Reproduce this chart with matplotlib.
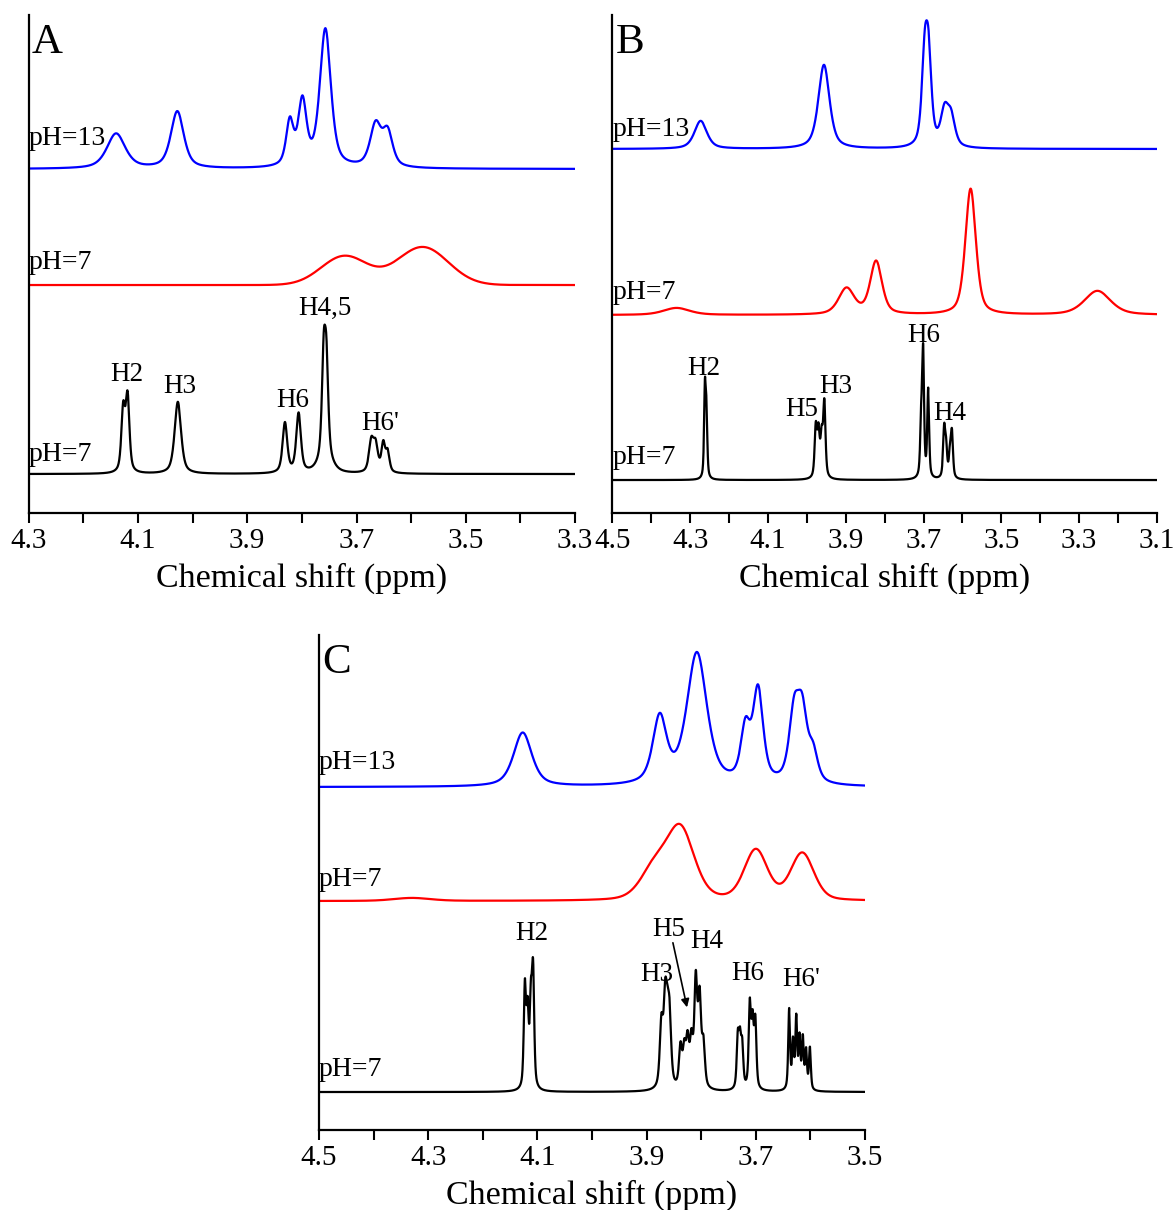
import numpy as np
import matplotlib
matplotlib.use('Agg')
import matplotlib.pyplot as plt

plt.rcParams['font.family'] = ['Liberation Serif', 'DejaVu Serif']

# ---- Panel A (x 4.3 -> 3.3) ----
A13_pos = [4.140, 4.028, 3.822, 3.799, 3.757, 3.665, 3.643]
A13_amp = [35, 57, 44, 64, 138, 42, 34]
A13_wid = [0.020, 0.014, 0.008, 0.009, 0.012, 0.012, 0.011]

A7b_pos = [3.722, 3.579]
A7b_amp = [29, 38]
A7b_wid = [0.050, 0.055]

A7_pos = [4.127, 4.119, 4.027, 3.831, 3.806, 3.760, 3.757, 3.755, 3.673, 3.665, 3.651, 3.643]
A7_amp = [62, 74, 72, 50, 59, 96, 14, 86, 30, 26, 28, 20]
A7_wid = [0.004, 0.004, 0.007, 0.005, 0.005, 0.004, 0.014, 0.004, 0.005, 0.005, 0.004, 0.004]

A_peaks = ['H2', 'H3', 'H6', 'H4,5', "H6'"]
A_peak_x = [4.120, 4.023, 3.817, 3.757, 3.656]
A_peak_y = [139, 127, 113, 205, 90]

# ---- Panel B (x 4.5 -> 3.1) ----
B13_pos = [4.273, 3.956, 3.697, 3.687, 3.646, 3.629]
B13_amp = [28, 84, 82, 80, 34, 28]
B13_wid = [0.019, 0.017, 0.009, 0.009, 0.012, 0.012]

B7b_pos = [4.335, 3.898, 3.822, 3.579, 3.253]
B7b_amp = [7, 26, 53, 126, 24]
B7b_wid = [0.040, 0.024, 0.018, 0.016, 0.040]

B7_pos = [4.262, 4.258, 3.977, 3.970, 3.962, 3.955, 3.706, 3.701, 3.688,
          3.647, 3.642, 3.632, 3.627]
B7_amp = [88, 60, 50, 44, 38, 74, 55, 122, 88, 48, 28, 24, 44]
B7_wid = [0.0025, 0.0025, 0.0035, 0.0035, 0.0035, 0.0035, 0.003, 0.0028, 0.0028,
          0.0032, 0.0032, 0.0032, 0.0032]

B_peaks = ['H2', 'H5', 'H3', 'H6', 'H4']
B_peak_x = [4.265, 4.013, 3.925, 3.699, 3.632]
B_peak_y = [145, 104, 127, 178, 100]

# ---- Panel C (x 4.5 -> 3.5) ----
C13_pos = [4.127, 3.876, 3.808, 3.719, 3.696, 3.630, 3.615, 3.595]
C13_amp = [54, 66, 132, 52, 92, 66, 66, 28]
C13_wid = [0.020, 0.015, 0.022, 0.010, 0.011, 0.011, 0.011, 0.010]

C7b_pos = [4.330, 3.886, 3.838, 3.700, 3.615]
C7b_amp = [3, 30, 70, 50, 47]
C7b_wid = [0.040, 0.030, 0.030, 0.025, 0.025]

C7_pos = [4.123, 4.118, 4.112, 4.108,
          3.873, 3.866, 3.862, 3.858,
          3.838, 3.831, 3.825, 3.818,
          3.810, 3.803, 3.796,
          3.733, 3.729, 3.725, 3.711, 3.706, 3.701,
          3.639, 3.632, 3.626, 3.620, 3.614, 3.608, 3.601]
C7_amp = [100, 72, 80, 112,
          62, 78, 44, 62,
          40, 36, 44, 44,
          104, 86, 42,
          50, 44, 40, 82, 62, 66,
          80, 46, 70, 50, 50, 38, 42]
C7_wid = [0.0024] * 4 + [0.0035] * 4 + [0.0032] * 4 + [0.0032] * 3 + [0.0024] * 6 + [0.002] * 7

C_peaks = ['H2', 'H3', 'H5', 'H4', 'H6', "H6'"]
C_peak_x = [4.111, 3.881, 3.859, 3.789, 3.715, 3.617]
C_peak_y = [197, 156, 201, 189, 157, 151]

ph_labels = ['pH=13', 'pH=7', 'pH=7']


def spectrum(x, pos, amp, wid, eta=0.6):
    """Pseudo-Voigt sum of peaks"""
    y = np.zeros_like(x)
    for p, a, w in zip(pos, amp, wid):
        u = (x - p) / w
        y += a * (eta / (1 + u ** 2) + (1 - eta) * np.exp(-np.log(2) * u ** 2))
    return y


def draw_panel(ax, xlim, ylim, traces, label_offsets, peaks, letter):
    x = np.linspace(xlim[1], xlim[0], 6000)
    for (pos, amp, wid, base, eta, color), text, off in zip(traces, ph_labels, label_offsets):
        ax.plot(x, base + spectrum(x, pos, amp, wid, eta), color=color, lw=1.6)
        ax.text(xlim[0], base + off, text, ha='left', va='bottom', fontsize=20)

    names, px, py = peaks
    for n, xx, yy in zip(names, px, py):
        ax.text(xx, yy, n, ha='center', va='center', fontsize=19.5)

    ax.text(0.006, 0.945, letter, transform=ax.transAxes, ha='left', va='center', fontsize=31)

    ax.set_xlim(*xlim)
    ax.set_ylim(*ylim)
    ticks = np.round(np.arange(min(xlim), max(xlim) + 1e-6, 0.1), 1)
    parity = round(xlim[0] * 10) % 2
    major = [t for t in ticks if round(t * 10) % 2 == parity]
    minor = [t for t in ticks if t not in major]
    ax.set_xticks(major)
    ax.set_xticks(minor, minor=True)
    ax.set_xticklabels([f'{t:.1f}' for t in major])
    ax.set_yticks([])
    ax.tick_params(axis='x', which='both', direction='out', length=7, width=1.5, labelsize=21, pad=4)
    for side in ['top', 'right']:
        ax.spines[side].set_visible(False)
    for side in ['left', 'bottom']:
        ax.spines[side].set_linewidth(1.6)
    ax.set_xlabel('Chemical shift (ppm)', fontsize=24.5, labelpad=6)


fig = plt.figure(figsize=(11.76, 12.10), dpi=100)

axA = fig.add_axes([0.0244, 0.576, 0.4646, 0.4116])
draw_panel(axA, (4.3, 3.3), (0, 498),
           [(A13_pos, A13_amp, A13_wid, 344, 0.6, '#0000ff'),
            (A7b_pos, A7b_amp, A7b_wid, 228, 0.0, '#ff0000'),
            (A7_pos, A7_amp, A7_wid, 39, 0.6, 'black')],
           [18, 10, 7], (A_peaks, A_peak_x, A_peak_y), 'A')

axB = fig.add_axes([0.5207, 0.576, 0.4631, 0.4116])
draw_panel(axB, (4.5, 3.1), (0, 498),
           [(B13_pos, B13_amp, B13_wid, 364, 0.6, '#0000ff'),
            (B7b_pos, B7b_amp, B7b_wid, 198, 0.5, '#ff0000'),
            (B7_pos, B7_amp, B7_wid, 33, 0.6, 'black')],
           [7, 10, 10], (B_peaks, B_peak_x, B_peak_y), 'B')

axC = fig.add_axes([0.2713, 0.0661, 0.4643, 0.409])
draw_panel(axC, (4.5, 3.5), (0, 495),
           [(C13_pos, C13_amp, C13_wid, 343, 0.6, '#0000ff'),
            (C7b_pos, C7b_amp, C7b_wid, 229, 0.3, '#ff0000'),
            (C7_pos, C7_amp, C7_wid, 38, 0.6, 'black')],
           [12, 9, 10], (C_peaks, C_peak_x, C_peak_y), 'C')

# arrow pointing H5 label to its multiplet
axC.annotate('', xy=(3.825, 120), xytext=(3.853, 190),
             arrowprops=dict(arrowstyle='-|>', color='black', lw=1.2, mutation_scale=12))

fig.savefig('out.png', dpi=100)
